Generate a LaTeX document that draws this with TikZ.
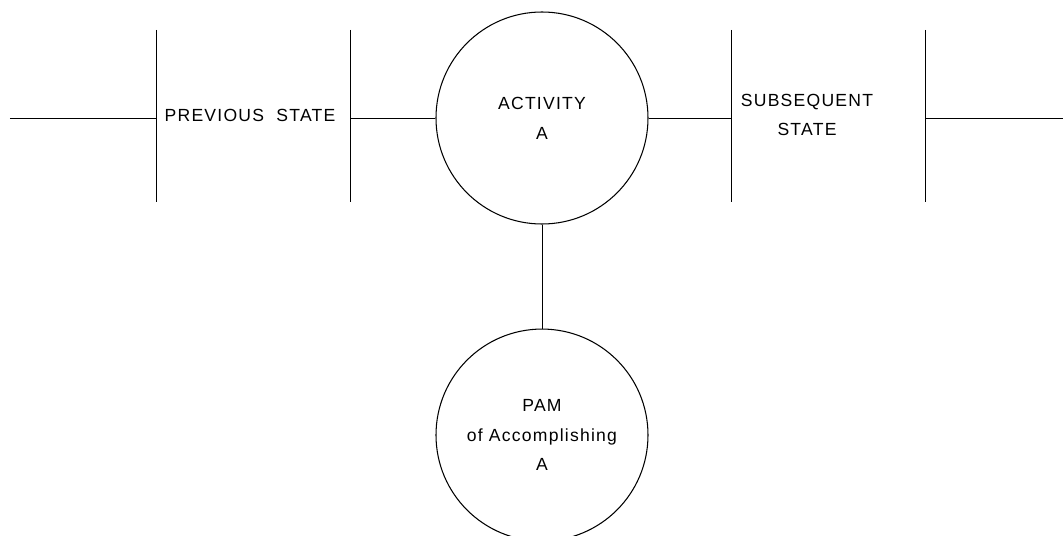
\documentclass[tikz,border=0pt]{standalone}
\usepackage{fontspec}
\newfontfamily\statefont[LetterSpace=7]{Liberation Sans}
\usetikzlibrary{positioning}

\begin{document}
\begin{tikzpicture}[
  link/.style={line width=0.5pt},
  bar/.style={line width=0.5pt},
  lbl/.style={font=\fontsize{10}{17}\selectfont\statefont,align=center},
  act/.style={circle,draw,line width=0.6pt,minimum size=4.24cm,inner sep=0pt,lbl}]
\useasboundingbox (0,0) rectangle (21.26,10.7);
\coordinate (inL) at (0.2,8.34);
\coordinate (barPa) at (3.12,8.34);
\coordinate (barPb) at (7.0,8.34);
\coordinate (barSa) at (14.62,8.34);
\coordinate (barSb) at (18.5,8.34);
\coordinate (outR) at (21.26,8.34);
\foreach \b in {barPa,barPb,barSa,barSb}
  \draw[bar] (\b) ++(0,1.76) -- ++(0,-3.44);

\node[lbl] (prevS) at (5.0,8.4) {PREVIOUS\hspace{0.7em}STATE};
\node[lbl] (subsS) at (16.14,8.4) {SUBSEQUENT\\STATE};
\node[act] (actA) at (10.84,8.34) {ACTIVITY\\A};
\node[act,below=2.08cm of actA] (pamA) {PAM\\of Accomplishing\\A};

\draw[link] (inL) -- (barPa);
\draw[link] (barPb) -- (actA);
\draw[link] (actA) -- (barSa);
\draw[link] (barSb) -- (outR);
\draw[link] (actA) -- (pamA);
\end{tikzpicture}
\end{document}
